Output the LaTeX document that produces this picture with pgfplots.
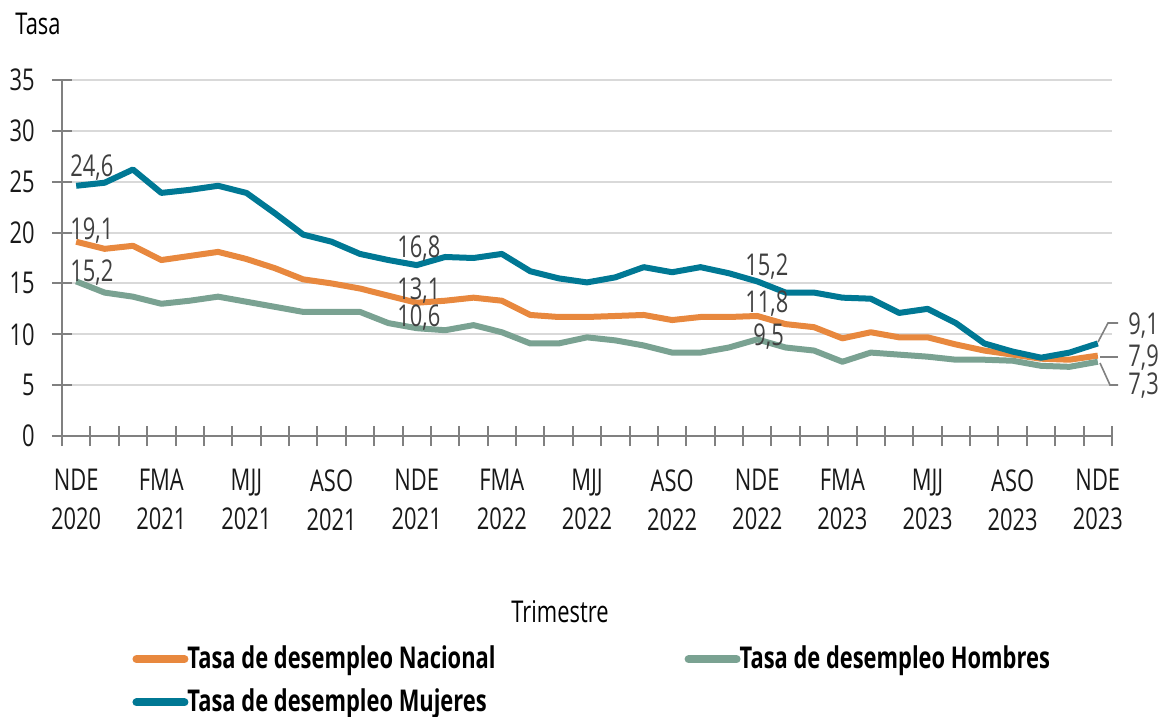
\documentclass[border=0pt]{standalone}
\usepackage{fontspec}
\setmainfont{Open Sans}[FakeStretch=0.73]
\usepackage{pgfplots}
\usepackage{pgfplotstable}
\pgfplotsset{compat=1.18}
\definecolor{cNac}{RGB}{232,136,62}
\definecolor{cHom}{RGB}{122,162,146}
\definecolor{cMuj}{RGB}{0,120,148}
\definecolor{cGrid}{RGB}{217,217,217}
\definecolor{cAx}{RGB}{128,128,128}
\definecolor{cTxt}{RGB}{64,64,64}
\definecolor{cTick}{RGB}{25,25,25}
\pgfplotstableread{
i nac hom muj
0 19.1 15.2 24.6
1 18.4 14.1 24.9
2 18.7 13.7 26.2
3 17.3 13.0 23.9
4 17.7 13.3 24.2
5 18.1 13.7 24.6
6 17.4 13.2 23.9
7 16.5 12.7 21.9
8 15.4 12.2 19.8
9 15.0 12.2 19.1
10 14.5 12.2 17.9
11 13.8 11.1 17.3
12 13.1 10.6 16.8
13 13.3 10.4 17.6
14 13.6 10.9 17.5
15 13.3 10.2 17.9
16 11.9 9.1 16.2
17 11.7 9.1 15.5
18 11.7 9.7 15.1
19 11.8 9.4 15.6
20 11.9 8.9 16.6
21 11.4 8.2 16.1
22 11.7 8.2 16.6
23 11.7 8.7 16.0
24 11.8 9.5 15.2
25 11.0 8.7 14.1
26 10.7 8.4 14.1
27 9.6 7.3 13.6
28 10.2 8.2 13.5
29 9.7 8.0 12.1
30 9.7 7.8 12.5
31 9.0 7.5 11.1
32 8.4 7.5 9.1
33 8.0 7.4 8.3
34 7.6 6.9 7.7
35 7.5 6.8 8.2
36 7.9 7.3 9.1
}\data
\begin{document}
\fontsize{15}{19.5}\selectfont
\begin{tikzpicture}[x=1pt,y=1pt]
\path[use as bounding box] (-31,-140.5) rectangle (550,218);
\begin{axis}[
  at={(0,0)}, anchor=south west,
  scale only axis, width=525pt, height=178pt,
  xmin=-0.5, xmax=36.5, ymin=0, ymax=35,
  axis lines*=left,
  axis line style={cAx, line width=1pt},
  tick align=center, major tick length=10pt,
  tick style={cAx, line width=1pt},
  ytick={0,5,...,35},
  /pgf/number format/assume math mode=true,
  ymajorgrids, grid style={cGrid, line width=1pt},
  xtick={-0.5,0.5,...,36.5}, xticklabels={},
  extra x ticks={0,3,...,36},
  extra x tick labels={{NDE\\2020},{FMA\\2021},{MJJ\\2021},{ASO\\2021},{NDE\\2021},{FMA\\2022},{MJJ\\2022},{ASO\\2022},{NDE\\2022},{FMA\\2023},{MJJ\\2023},{ASO\\2023},{NDE\\2023}},
  extra x tick style={major tick length=0pt},
  x tick label style={align=center, font=\fontsize{15}{19.5}\selectfont, text=cTick, yshift=-11.5pt},
  y tick label style={font=\fontsize{15}{19.5}\selectfont, text=cTick, anchor=east, xshift=-3.5pt},
  legend style={at={(0.061,-0.565)}, anchor=north west, draw=none, fill=none,
    font=\bfseries\fontsize{15}{19.5}\selectfont, text=black,
    legend columns=2,
    /tikz/every odd column/.append style={column sep=-2.5pt},
    /tikz/every even column/.append style={column sep=92.5pt},
    row sep=4pt},
  legend cell align=left,
  legend image code/.code={\draw[#1, line width=4pt, line cap=round] (0pt,0pt) -- (24pt,0pt);},
]
\addplot[cNac, line width=3pt, line join=round] table[x=i, y=nac] {\data};
\addlegendentry{Tasa de desempleo Nacional}
\addplot[cHom, line width=3pt, line join=round] table[x=i, y=hom] {\data};
\addlegendentry{Tasa de desempleo Hombres}
\addplot[cMuj, line width=3pt, line join=round] table[x=i, y=muj] {\data};
\addlegendentry{Tasa de desempleo Mujeres}
\end{axis}
\begin{scope}[every node/.style={text=cTxt, inner sep=0pt, font=\fontsize{15}{19.5}\selectfont}]
\node[anchor=base west] at (4,129.5) {24,6};
\node[anchor=base west] at (4,98) {19,1};
\node[anchor=base west] at (4,77) {15,2};
\node[anchor=base west] at (167.5,89) {16,8};
\node[anchor=base west] at (167.5,68) {13,1};
\node[anchor=base west] at (167.5,54.5) {10,6};
\node[anchor=base west] at (341.5,80) {15,2};
\node[anchor=base west] at (341.5,61.5) {11,8};
\node[anchor=base west] at (345.5,45) {9,5};
\node[anchor=base west] at (533,50.5) {9,1};
\node[anchor=base west] at (533,34.5) {7,9};
\node[anchor=base west] at (533,20.5) {7,3};
\node[anchor=base west, text=black] at (-23.5,200.5) {Tasa};
\node[anchor=base, text=black] at (249,-93) {Trimestre};
\end{scope}
\draw[cAx, line width=0.8pt] (518,47) -- (523,56.5) -- (528,56.5);
\draw[cAx, line width=0.8pt] (519,39.5) -- (528,39.5);
\draw[cAx, line width=0.8pt] (519,36.5) -- (524,25.5) -- (528,25.5);
\end{tikzpicture}
\end{document}
